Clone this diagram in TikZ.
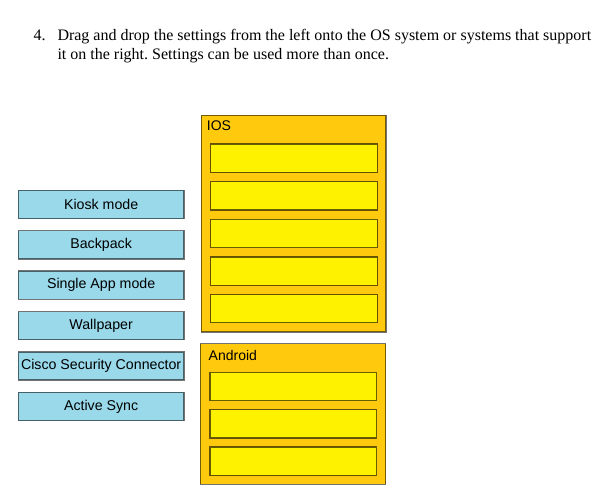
\documentclass[tikz,border=0pt]{standalone}
\usepackage{fontspec}
\setmainfont{Liberation Sans}
\newfontfamily\qserif{Liberation Serif}
\definecolor{setblue}{RGB}{153,217,234}
\definecolor{osgold}{RGB}{255,201,14}
\definecolor{slotyellow}{RGB}{255,242,0}
\frenchspacing
\begin{document}
\begin{tikzpicture}[x=1pt,y=-1pt,
  setting/.style={draw=black, draw opacity=0.55, line width=1.3pt, fill=setblue,
    minimum width=165.7pt, minimum height=28.2pt, anchor=north west, inner sep=0pt,
    font=\fontsize{14.2}{16}\selectfont},
  osbox/.style={draw=black, draw opacity=0.55, line width=1.3pt, fill=osgold,
    anchor=north west, inner sep=0pt},
  slot/.style={draw=black, draw opacity=0.6, line width=1.3pt, fill=slotyellow,
    minimum width=166.7pt, minimum height=28.3pt, anchor=north west, inner sep=0pt},
  oslabel/.style={anchor=base west, inner sep=0pt, font=\fontsize{14}{16}\selectfont},
  qtext/.style={anchor=base west, inner sep=0pt, font=\qserif\fontsize{16}{18}\selectfont}]
\useasboundingbox (0,0) rectangle (601,492);
\fill[white] (0,0) rectangle (601,492);
% question
\node[qtext] (num) at (33.3,41) {4.};
\node[qtext] (q1) at (57.3,41) {Drag and drop the settings from the left onto the OS system or systems that support};
\node[qtext] (q2) at (57.3,59.5) {it on the right. Settings can be used more than once.};
% settings
\node[setting] (s1) at (17.65,189.65) {Kiosk mode};
\node[setting] (s2) at (17.65,230.05) {Backpack};
\node[setting] (s3) at (17.65,270.45) {Single App mode};
\node[setting] (s4) at (17.65,310.85) {Wallpaper};
\node[setting] (s5) at (17.65,351.25) {Cisco Security Connector};
\node[setting] (s6) at (17.65,391.65) {Active Sync};
% IOS
\node[osbox, minimum width=184.7pt, minimum height=216.7pt] (ios) at (200.65,114.65) {};
\node[oslabel] (iosl) at (206.7,130.7) {IOS};
\node[slot] (i1) at (209.95,143.35) {};
\node[slot] (i2) at (209.95,180.95) {};
\node[slot] (i3) at (209.95,218.55) {};
\node[slot] (i4) at (209.95,256.25) {};
\node[slot] (i5) at (209.95,293.85) {};
% Android
\node[osbox, minimum width=185.4pt, minimum height=140.7pt] (and) at (199.65,342.95) {};
\node[oslabel] (andl) at (208.5,360.7) {Android};
\node[slot] (a1) at (209.35,371.65) {};
\node[slot] (a2) at (209.35,408.95) {};
\node[slot] (a3) at (209.35,446.35) {};
\end{tikzpicture}
\end{document}
